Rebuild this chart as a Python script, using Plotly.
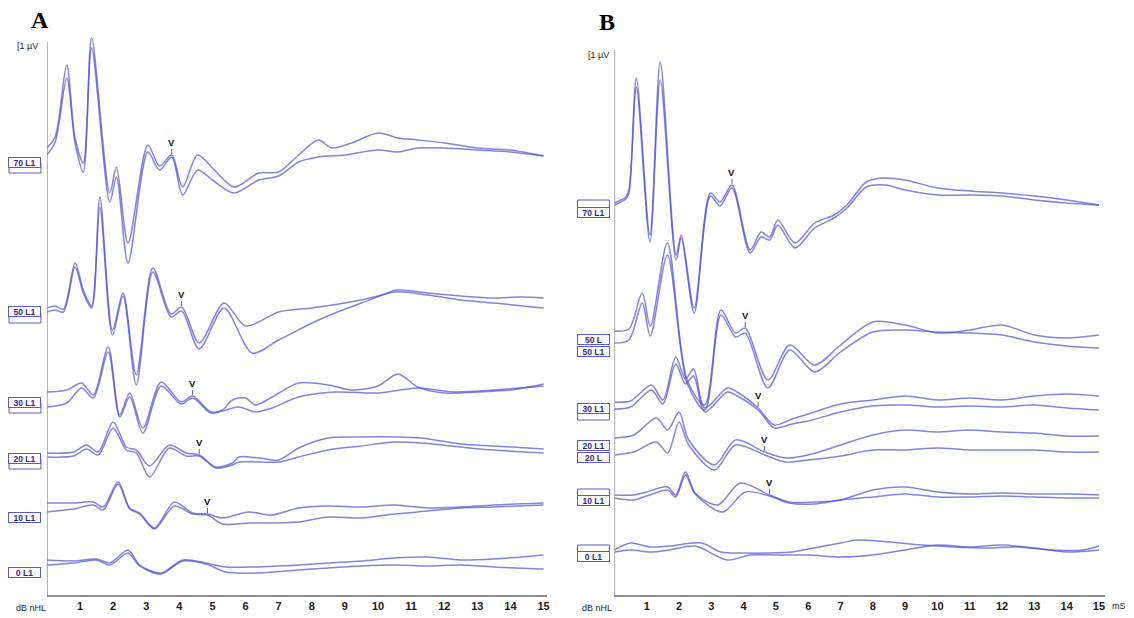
import numpy as np
import plotly.graph_objects as go

# ---------------- data (latency in ms, amplitude in display units) ----------------
levels = ["70", "50", "30", "20", "10", "0"]

# Panel A
A70_t1 = [0.0, 0.25, 0.6, 0.85, 1.1, 1.35, 1.9, 2.1, 2.45, 3.05, 3.4, 3.77, 4.1, 4.55, 5.0, 5.65, 6.4, 7.0, 7.6, 8.2, 8.6, 9.2, 10.0, 10.6, 11.2, 12.0, 13.0, 14.0, 15.0]
A70_a1 = [4, 15, 87, 14, -11, 114, -41, -15, -91, 7, -14, -3, -35, -3, -16, -35, -21, -20, -3, 12, 4, 9, 19, 14, 12, 9, 4, 2, -4]
A70_t2 = [0.0, 0.25, 0.6, 0.85, 1.1, 1.35, 1.9, 2.1, 2.45, 3.05, 3.4, 3.77, 4.1, 4.55, 5.0, 5.65, 6.4, 7.0, 7.6, 8.2, 9.0, 10.0, 10.6, 11.2, 12.0, 13.0, 14.0, 15.0]
A70_a2 = [-3, 10, 74, 9, -20, 104, -50, -25, -111, 0, -18, -5, -43, -18, -28, -41, -28, -24, -10, -5, -3, 2, 0, 4, 4, 2, 0, -4]

A50_t1 = [0.0, 0.25, 0.5, 0.85, 1.1, 1.35, 1.6, 1.98, 2.3, 2.7, 3.2, 3.75, 4.07, 4.6, 5.35, 6.0, 7.0, 8.0, 9.0, 10.0, 10.6, 11.5, 12.5, 13.5, 14.3, 15.0]
A50_a1 = [2, 4, 1, 47, 20, 4, 113, -20, 17, -65, 42, -4, 3, -33, 7, -16, -2, 2, 7, 14, 20, 17, 14, 12, 13, 12]
A50_t2 = [0.0, 0.25, 0.5, 0.85, 1.1, 1.35, 1.6, 1.98, 2.3, 2.7, 3.2, 3.75, 4.07, 4.6, 5.35, 6.2, 7.0, 8.2, 9.5, 10.5, 11.5, 12.5, 13.5, 15.0]
A50_a2 = [-2, 0, -2, 43, 17, 2, 103, -25, 14, -75, 38, -7, -1, -39, 2, -43, -30, -10, 7, 18, 15, 10, 7, 2]

A30_t1 = [0.0, 0.6, 1.05, 1.4, 1.85, 2.2, 2.5, 2.9, 3.45, 4.05, 4.4, 4.95, 5.3, 5.6, 6.0, 6.3, 6.8, 7.6, 8.5, 9.2, 10.0, 10.6, 11.2, 12.0, 13.0, 14.0, 15.0]
A30_a1 = [8, 10, 17, 5, 53, -15, 7, -28, 18, -2, 4, -12, -10, 0, 2, -5, 3, 17, 15, 10, 14, 26, 13, 7, 8, 10, 16]
A30_t2 = [0.0, 0.6, 1.05, 1.4, 1.85, 2.2, 2.5, 2.9, 3.45, 4.05, 4.4, 4.95, 5.3, 5.8, 6.3, 6.8, 7.6, 8.7, 10.0, 11.2, 12.3, 13.5, 15.0]
A30_a2 = [-7, -3, 12, 2, 48, -17, 3, -33, 14, -4, 2, -13, -11, -7, -12, -8, 3, 8, 7, 12, 8, 10, 14]

A20_t1 = [0.0, 0.8, 1.2, 1.55, 2.0, 2.4, 2.7, 3.1, 3.7, 4.2, 4.6, 5.1, 5.6, 5.8, 6.4, 7.0, 7.6, 8.5, 9.5, 10.5, 11.3, 12.5, 13.5, 15.0]
A20_a1 = [5, 6, 13, 6, 36, 11, 8, -8, 13, 5, 3, -9, -5, 1, 0, -2, 10, 20, 21, 21, 20, 14, 12, 9]
A20_t2 = [0.0, 0.8, 1.2, 1.55, 2.0, 2.4, 2.7, 3.1, 3.7, 4.2, 4.6, 5.1, 5.6, 5.8, 6.4, 7.0, 7.6, 8.5, 9.5, 10.5, 11.3, 12.5, 13.5, 15.0]
A20_a2 = [1, 2, 9, 3, 30, 8, 5, -19, 10, 2, 2, -10, -7, -4, -4, -4, 1, 8, 12, 16, 15, 11, 8, 5]

A10_t1 = [0.0, 0.8, 1.4, 1.7, 2.15, 2.5, 2.8, 3.25, 3.85, 4.4, 4.85, 5.3, 6.1, 6.8, 7.6, 8.5, 9.5, 10.5, 11.5, 12.5, 13.5, 15.0]
A10_a1 = [9, 9, 10, 5, 30, 4, -1, -16, 10, -1, -2, -6, 0, -3, 4, 6, 5, 7, 4, 5, 7, 9]
A10_t2 = [0.0, 0.8, 1.4, 1.7, 2.15, 2.5, 2.8, 3.25, 3.85, 4.4, 4.85, 5.3, 6.1, 6.8, 7.6, 8.5, 9.5, 10.5, 11.5, 12.5, 13.5, 15.0]
A10_a2 = [0, 3, 7, 2, 28, 3, -2, -17, 6, -2, -3, -12, -11, -11, -10, -5, -6, -2, 1, 4, 5, 7]

A0_t1 = [0.0, 0.8, 1.5, 1.9, 2.45, 2.8, 3.45, 4.1, 4.8, 5.4, 6.3, 7.6, 8.5, 9.5, 10.5, 11.5, 12.5, 13.5, 15.0]
A0_a1 = [6, 5, 7, 3, 16, 1, -7, 6, 3, -1, -1, 1, 3, 5, 8, 9, 6, 7, 11]
A0_t2 = [0.0, 0.8, 1.5, 1.9, 2.45, 2.8, 3.45, 4.1, 4.8, 5.4, 6.3, 7.6, 8.5, 9.5, 10.5, 11.5, 12.5, 13.5, 15.0]
A0_a2 = [1, 3, 6, 1, 13, 0, -8, 5, 2, -6, -7, -4, -2, 0, 1, 0, 1, -1, -3]

# Panel B
B70_t1 = [0.0, 0.35, 0.45, 0.68, 1.1, 1.42, 1.91, 2.07, 2.47, 2.97, 3.27, 3.64, 4.2, 4.54, 4.81, 5.06, 5.59, 6.2, 6.8, 7.2, 7.8, 8.3, 9.0, 10.0, 11.0, 12.0, 13.0, 14.0, 15.0]
B70_a1 = [2, 8, 15, 127, -30, 143, -50, -30, -103, 12, 3, 20, -45, -27, -32, -15, -38, -18, -10, 0, 23, 27, 25, 17, 14, 12, 9, 5, 0]
B70_t2 = [0.0, 0.35, 0.45, 0.68, 1.1, 1.42, 1.91, 2.07, 2.47, 2.97, 3.27, 3.64, 4.2, 4.54, 4.81, 5.06, 5.59, 6.2, 6.8, 7.2, 7.8, 8.4, 9.0, 10.0, 11.0, 12.0, 13.0, 14.0, 15.0]
B70_a2 = [0, 6, 12, 118, -37, 125, -55, -33, -108, 9, -1, 17, -48, -32, -35, -20, -43, -23, -13, -3, 18, 20, 15, 10, 10, 9, 5, 2, 0]

B50_t1 = [0.0, 0.45, 0.86, 1.11, 1.64, 2.25, 2.8, 3.3, 3.75, 4.05, 4.75, 5.43, 6.2, 7.0, 8.0, 9.0, 10.0, 11.0, 12.0, 13.0, 14.0, 15.0]
B50_a1 = [9, 11, 47, 14, 97, -40, -65, 30, 7, 12, -40, -5, -25, -5, 18, 15, 7, 10, 15, 5, 2, 5]
B50_t2 = [0.0, 0.45, 0.86, 1.11, 1.64, 2.25, 2.8, 3.3, 3.75, 4.05, 4.75, 5.43, 6.2, 7.0, 8.0, 9.0, 10.0, 11.0, 12.0, 13.0, 14.0, 15.0]
B50_a2 = [-3, 0, 37, 4, 85, -43, -70, 25, 3, 7, -48, -10, -32, -12, 8, 10, 8, 7, 5, -2, -6, -8]

B30_t1 = [0.0, 0.5, 1.15, 1.5, 1.9, 2.2, 2.45, 2.8, 3.5, 3.8, 4.45, 4.95, 5.5, 6.0, 7.0, 8.0, 9.0, 10.0, 11.0, 12.0, 13.0, 14.0, 15.0]
B30_a1 = [2, 3, 19, 4, 47, 25, 35, -4, 16, 12, -4, -21, -15, -10, 0, 4, 8, 4, 6, 4, 8, 10, 8]
B30_t2 = [0.0, 0.5, 1.15, 1.5, 1.9, 2.2, 2.45, 2.8, 3.5, 3.8, 4.45, 4.95, 5.5, 6.0, 7.0, 8.0, 9.0, 10.0, 11.0, 12.0, 13.0, 14.0, 15.0]
B30_a2 = [-5, -3, 14, 0, 40, 20, 28, -8, 12, 8, -6, -24, -20, -17, -8, -2, -1, -3, -2, -3, -1, -4, -6]

B20_t1 = [0.0, 0.6, 1.3, 1.65, 2.0, 2.3, 3.1, 3.75, 4.65, 5.3, 6.0, 7.0, 8.0, 9.0, 10.0, 11.0, 12.0, 13.0, 14.0, 15.0]
B20_a1 = [12, 15, 32, 20, 38, 10, -15, 10, -2, -8, -5, 5, 15, 20, 18, 20, 18, 17, 14, 14]
B20_t2 = [0.0, 0.6, 1.3, 1.65, 2.0, 2.3, 3.1, 3.75, 4.65, 5.3, 6.0, 7.0, 8.0, 9.0, 10.0, 11.0, 12.0, 13.0, 14.0, 15.0]
B20_a2 = [-5, -2, 8, -3, 28, 5, -20, 5, -5, -12, -10, -6, 0, 0, 2, 0, 0, 0, -2, -2]

B10_t1 = [0.0, 0.6, 1.0, 1.65, 1.9, 2.2, 2.5, 3.2, 3.9, 4.8, 5.4, 6.2, 7.0, 8.0, 9.0, 10.0, 11.0, 12.0, 13.0, 14.0, 15.0]
B10_a1 = [3, 3, 6, 11, 3, 26, 5, -7, 15, 3, -4, -4, -2, 8, 11, 6, 4, 5, 4, 4, 3]
B10_t2 = [0.0, 0.6, 1.0, 1.65, 1.9, 2.2, 2.5, 3.35, 4.05, 4.8, 5.4, 6.2, 7.0, 8.0, 9.0, 10.0, 11.0, 12.0, 13.0, 14.0, 15.0]
B10_a2 = [0, -2, 2, 8, 1, 23, 4, -14, 6, 2, -5, -6, -2, 1, 4, 1, 1, 2, 1, 0, 0]

B0_t1 = [0.0, 0.5, 1.1, 1.7, 2.7, 3.3, 4.0, 4.8, 5.5, 6.0, 7.0, 7.5, 8.5, 9.5, 10.5, 11.5, 12.5, 13.5, 14.5, 15.0]
B0_a1 = [2, 9, 5, 6, 9, 0, -1, -1, 0, 3, 9, 12, 10, 7, 5, 4, 5, 2, 2, 6]
B0_t2 = [0.0, 0.5, 1.1, 1.7, 2.5, 3.5, 4.2, 5.0, 6.0, 7.0, 8.0, 9.0, 10.0, 11.0, 12.0, 13.0, 14.0, 15.0]
B0_a2 = [0, 2, 0, 2, 6, -8, -3, -3, -3, -5, -3, 2, 7, 5, 7, 4, 0, 2]

# wave V latencies (ms) for 70..10 dB
A_V = [3.77, 4.07, 4.4, 4.6, 4.85]
B_V = [3.64, 4.05, 4.45, 4.65, 4.8]

tick_vals = list(range(1, 16))

# ---------------- layout helpers ----------------
W, H = 1134, 618
PAGE = 8          # default body margin of the html page
A_offsets = [443, 285, 195, 137, 83, 29]   # vertical stacking of the traces
B_offsets = [390, 255, 191, 145, 97, 43]

A_data = [(A70_t1, A70_a1, A70_t2, A70_a2), (A50_t1, A50_a1, A50_t2, A50_a2),
          (A30_t1, A30_a1, A30_t2, A30_a2), (A20_t1, A20_a1, A20_t2, A20_a2),
          (A10_t1, A10_a1, A10_t2, A10_a2), (A0_t1, A0_a1, A0_t2, A0_a2)]
B_data = [(B70_t1, B70_a1, B70_t2, B70_a2), (B50_t1, B50_a1, B50_t2, B50_a2),
          (B30_t1, B30_a1, B30_t2, B30_a2), (B20_t1, B20_a1, B20_t2, B20_a2),
          (B10_t1, B10_a1, B10_t2, B10_a2), (B0_t1, B0_a1, B0_t2, B0_a2)]

LINE = "rgba(78,78,210,0.70)"
fig = go.Figure()


def add_panel(data, offsets, xa, ya):
    for (t1, a1, t2, a2), off in zip(data, offsets):
        for t, a in ((t2, a2), (t1, a1)):
            fig.add_trace(go.Scatter(
                x=t, y=[off + v for v in a], mode="lines",
                line=dict(color=LINE, width=1.5, shape="spline", smoothing=0.85),
                xaxis=xa, yaxis=ya, hoverinfo="skip", showlegend=False))


add_panel(A_data, A_offsets, "x", "y")
add_panel(B_data, B_offsets, "x2", "y2")


def fx(p):
    return (p - PAGE) / W


def fy(p):
    return 1 - (p - PAGE) / H


ann = []
shapes = []
# wave V markers
for vlist, data, offsets, xr, yr in ((A_V, A_data, A_offsets, "x", "y"), (B_V, B_data, B_offsets, "x2", "y2")):
    for v, (t1, a1, _, _), off in zip(vlist, data[:5], offsets[:5]):
        yv = off + float(np.interp(v, t1, a1))
        ann.append(dict(x=v, y=yv, xref=xr, yref=yr, text="<b>V</b>", showarrow=True,
                        arrowhead=0, arrowwidth=1, arrowcolor="#666", ax=0, ay=-13,
                        standoff=1, font=dict(size=9.5, color="#111", family="Liberation Sans")))


def label(xc, ypx, text):
    return dict(x=fx(xc), xref="paper", y=fy(ypx), yref="paper", text=f"<b>{text}</b>",
                showarrow=False, font=dict(size=8.5, color="#2a2a8a", family="Liberation Sans"),
                bordercolor="#5a5acf", borderwidth=1, borderpad=0, bgcolor="white",
                width=31, height=9, xanchor="center", yanchor="middle")


def ghost(xc, ypx):
    # partially hidden partner label box
    return dict(type="rect", xref="paper", yref="paper", x0=fx(xc - 16), x1=fx(xc + 16),
                y0=fy(ypx + 5), y1=fy(ypx - 5), line=dict(color="#5a5acf", width=1),
                fillcolor="white", layer="above")


# level labels: (ghost row or None, visible row, text)
A_lab = [(168, 162, "70 L1"), (318, 312, "50 L1"), (408, 402, "30 L1"),
         (464, 458, "20 L1"), (None, 517, "10 L1"), (None, 572, "0 L1")]
for yh, yv, tv in A_lab:
    if yh is not None:
        shapes.append(ghost(25, yh))
    ann.append(label(25, yv, tv))

B_lab = [(205, 212, "70 L1"), (None, 340, "50 L"), (None, 351, "50 L1"),
         (415, 408, "30 L1"), (None, 445, "20 L1"), (None, 457, "20 L"),
         (494, 500, "10 L1"), (550, 556, "0 L1")]
for yh, yv, tv in B_lab:
    if yh is not None:
        shapes.append(ghost(595, yh))
    ann.append(label(595, yv, tv))


def txt(xc, yc, s, size, family="Liberation Sans", color="#222"):
    return dict(x=fx(xc), y=fy(yc), xref="paper", yref="paper", text=s, showarrow=False,
                xanchor="center", yanchor="middle", font=dict(size=size, family=family, color=color))


ann += [
    txt(40, 20, "<b>A</b>", 24, "Liberation Serif", "black"),
    txt(609, 22, "<b>B</b>", 24, "Liberation Serif", "black"),
    txt(28, 46, "[1 µV", 9),
    txt(600, 55, "[1 µV", 9),
    txt(31, 608, "dB nHL", 9),
    txt(599, 608, "dB nHL", 9),
    txt(1122, 606, "mS", 9),
]

shapes += [
    dict(type="line", xref="x", yref="y", x0=0, x1=0, y0=0, y1=553, line=dict(color="#8c8c8c", width=1.5)),
    dict(type="line", xref="x2", yref="y2", x0=0, x1=0, y0=0, y1=545, line=dict(color="#8c8c8c", width=1.5)),
]

xcommon = dict(showline=True, linecolor="#8c8c8c", linewidth=1.5, showgrid=False, zeroline=False,
               tickvals=tick_vals, ticktext=[f"<b>{v}</b>" for v in tick_vals], ticks="",
               tickfont=dict(size=11, color="#1a1a1a", family="Liberation Sans"), fixedrange=True)
# y axis: 1 unit = 1 px, 0 at the time axis (reference row 595)
ycommon = dict(visible=False, range=[0, 565], domain=[1 - (595 - PAGE) / H, 1 - (30 - PAGE) / H], fixedrange=True)

fig.update_layout(
    width=W, height=H, margin=dict(l=0, r=0, t=0, b=0),
    paper_bgcolor="white", plot_bgcolor="white",
    xaxis=dict(domain=[fx(47), fx(548)], range=[0, 15.09], anchor="y", **xcommon),
    xaxis2=dict(domain=[fx(616), fx(1108)], range=[0, 15.19], anchor="y2", **xcommon),
    yaxis=dict(anchor="x", **ycommon),
    yaxis2=dict(anchor="x2", **ycommon),
    annotations=ann,
    shapes=shapes,
)

fig.write_html("out.html")
